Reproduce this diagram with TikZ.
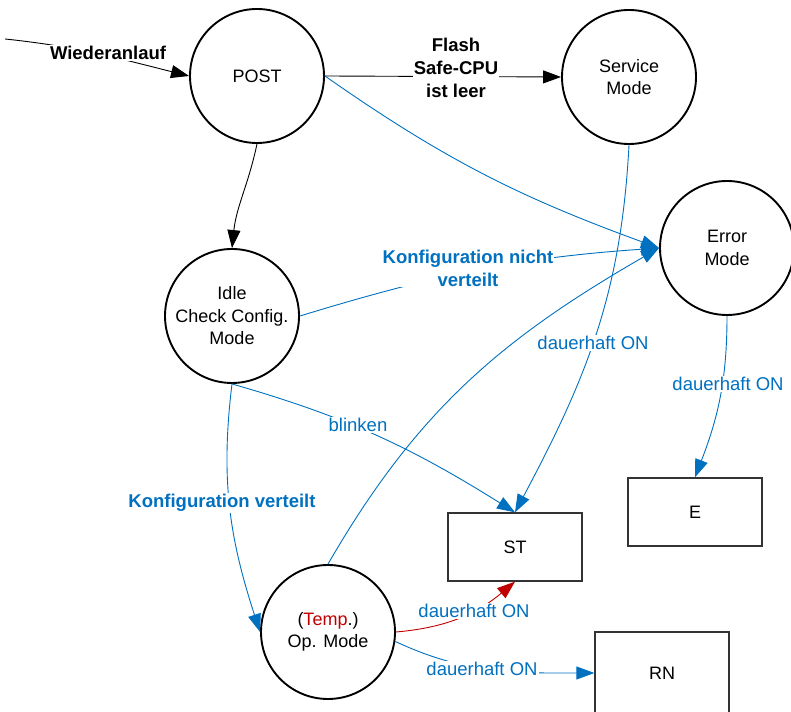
\documentclass[tikz,border=0pt]{standalone}
\usepackage{fontspec}
\setmainfont{Liberation Sans}
\usepackage{tikz}
\usetikzlibrary{arrows.meta}
\definecolor{stblue}{HTML}{0070C0}
\definecolor{stred}{HTML}{C00000}
\tikzset{% customization of the state chart
        modus/.style={draw, circle, line width=1.9pt, minimum size=134pt, inner sep=0pt,
                align=center, font=\fontsize{18}{22.5}\selectfont},
        lamp/.style={draw=black!80, line width=1.3pt, minimum width=134pt, minimum height=68pt,
                font=\fontsize{18}{22}\selectfont},
        trans/.style={line width=0.9pt, -{Triangle[length=18pt,width=13pt]}},
        cond/.style={fill=white, inner sep=1pt, align=center, font=\fontsize{18.5}{23}\selectfont},
        boldcond/.style={cond, font=\fontsize{18.5}{23}\selectfont\bfseries}
        }

\begin{document}
\begin{tikzpicture}[x=1pt,y=1pt]
\useasboundingbox (0,0) rectangle (791,711);
\clip (0,0) rectangle (791,711);
% states
\node (post) [modus] at (257,635) {POST};
\node (service) [modus] at (629,634) {Service\\Mode};
\node (error) [modus] at (727,463) {Error\\Mode};
\node (idle) [modus] at (232,395) {Idle\\Check Config.\\Mode};
\node (op) [modus] at (328,79) {(\textcolor{stred}{Temp}.)\\Op. Mode};
% lamps
\node (st) [lamp] at (515,164) {ST};
\node (e) [lamp] at (695,199) {E};
\node (rn) [lamp, minimum height=82pt] at (662,38) {RN};
\coordinate (start) at (5,672);
% transitions
\draw [trans] (start) to[out=-6, in=166] (post.west);
\draw [trans] (post.east) -- (service.west);
\draw [trans] (post.south) to[out=-102, in=84] (idle.north);
\draw [trans, stblue] (post.east) to[out=-35, in=160] (error.west);
\draw [trans, stblue] (idle.east) to[out=17, in=184] (error.west);
\draw [trans, stblue] (op.north) to[out=60, in=210] (error.west);
\draw [trans, stblue] (service.south) to[out=-93, in=62] (st.north);
\draw [trans, stblue] (error.south) to[out=-90, in=69] (e.north);
\draw [trans, stblue] (idle.south) to[out=-16, in=148] (st.north);
\draw [trans, stblue] (idle.south) to[out=-97, in=108] (op.west);
\draw [trans, stred] (op.east) to[out=5, in=220] (st.south);
\draw [trans, stblue] (op.-8) to[out=-25, in=180] (rn.west);
% conditions
\node (wieder) [boldcond] at (108,658) {Wiederanlauf};
\node (flash) [boldcond] at (456,643) {Flash\\Safe-CPU\\ist leer};
\node (nichtvert) [boldcond, text=stblue] at (468,443) {Konfiguration nicht\\verteilt};
\node (vert) [boldcond, text=stblue] at (222,208) {Konfiguration verteilt};
\node (blink) [cond, text=stblue] at (358,286) {blinken};
\node (dauerst) [cond, text=stblue] at (593,368) {dauerhaft ON};
\node (dauere) [cond, text=stblue] at (728,327) {dauerhaft ON};
\node (dauerred) [cond, text=stblue] at (474,100) {dauerhaft ON};
\node (dauerrn) [cond, text=stblue] at (482,42) {dauerhaft ON};
\end{tikzpicture}
\end{document}
